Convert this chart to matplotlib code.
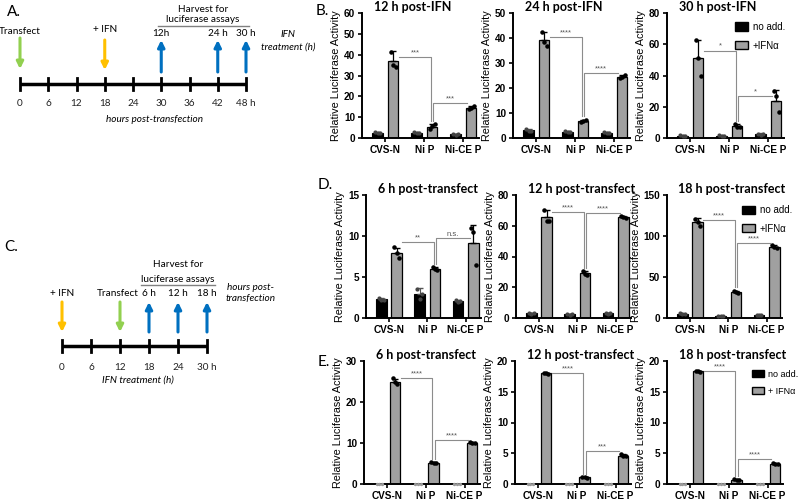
import matplotlib.pyplot as plt
from matplotlib.patches import Patch

# ---- data -------------------------------------------------------------
groups = ['CVS-N', 'Ni P', 'Ni-CE P']

# B: IFN added 18 h after transfection
b_titles = ['12 h post-IFN', '24 h post-IFN', '30 h post-IFN']
b_ymax = [60, 50, 80]
b_ystep = [10, 10, 20]
b_ctrl = [[2.5, 2.6, 1.8], [3.1, 2.5, 2.1], [1.5, 1.4, 2.4]]
b_ctrl_err = [[0.4, 0.3, 0.3], [0.5, 0.3, 0.3], [0.4, 0.3, 0.5]]
b_ctrl_pts = [[[2.9, 2.3, 2.5], [2.9, 2.4, 2.6], [2.1, 1.6, 1.8]],
              [[3.5, 2.9, 3.0], [2.8, 2.3, 2.5], [2.4, 1.9, 2.1]],
              [[1.9, 1.3, 1.4], [1.7, 1.2, 1.4], [2.8, 2.1, 2.4]]]
b_ifn = [[36.8, 5.5, 14.6], [39.3, 6.9, 24.5], [51.0, 7.6, 24.0]]
b_ifn_err = [[5.0, 1.3, 1.0], [3.2, 0.5, 0.6], [12.0, 1.5, 6.8]]
b_ifn_pts = [[[41.5, 35.0, 34.0], [4.5, 5.8, 6.8], [14.0, 14.3, 15.6]],
             [[42.5, 38.5, 37.0], [6.5, 7.0, 7.3], [24.0, 24.3, 25.2]],
             [[63.0, 51.0, 40.0], [9.0, 7.0, 7.0], [30.0, 27.0, 16.5]]]
b_stars = [['***', '***'], ['****', '****'], ['*', '*']]
b_star_y = [[39, 17], [40.5, 26], [56, 27]]

# D: IFN added 12 h before transfection
d_titles = ['6 h post-transfect', '12 h post-transfect', '18 h post-transfect']
d_ymax = [15, 80, 150]
d_ystep = [5, 20, 50]
d_ctrl = [[2.3, 2.9, 2.1], [3.0, 2.5, 3.0], [5.0, 2.5, 3.5]]
d_ctrl_err = [[0.2, 0.7, 0.1], [0.4, 0.4, 0.3], [0.8, 0.5, 0.6]]
d_ctrl_pts = [[[2.5, 2.2, 2.2], [3.5, 2.3, 2.9], [2.2, 2.0, 2.1]],
              [[3.3, 2.8, 3.0], [2.8, 2.2, 2.5], [3.3, 2.7, 3.0]],
              [[5.7, 4.5, 4.8], [2.9, 2.2, 2.4], [4.0, 3.1, 3.4]]]
d_ifn = [[7.9, 6.0, 9.1], [65.5, 29.0, 65.8], [117.0, 32.0, 87.0]]
d_ifn_err = [[0.6, 0.2, 2.3], [5.0, 1.6, 0.8], [5.0, 1.5, 2.0]]
d_ifn_pts = [[[8.7, 7.9, 7.3], [6.2, 6.0, 5.9], [11.0, 10.5, 6.5]],
             [[70.5, 63.0, 63.0], [30.5, 28.5, 28.0], [66.5, 65.8, 65.2]],
             [[121.0, 117.0, 112.0], [33.5, 31.5, 31.0], [89.0, 86.5, 85.5]]]
d_stars = [['**', 'n.s.'], ['****', '****'], ['****', '****']]
d_star_y = [[9.3, 9.7], [69, 68], [120, 92]]

# E: second experiment, same design as D
e_titles = ['6 h post-transfect', '12 h post-transfect', '18 h post-transfect']
e_ymax = [30, 20, 20]
e_ystep = [10, 5, 5]
e_ctrl = [[0, 0, 0], [0, 0, 0], [0, 0, 0]]
e_ctrl_err = [[0, 0, 0], [0, 0, 0], [0, 0, 0]]
e_ctrl_pts = [[[0, 0, 0], [0, 0, 0], [0, 0, 0]],
              [[0, 0, 0], [0, 0, 0], [0, 0, 0]],
              [[0, 0, 0], [0, 0, 0], [0, 0, 0]]]
e_ifn = [[25.0, 5.2, 10.0], [18.0, 1.1, 4.6], [18.3, 0.7, 3.3]]
e_ifn_err = [[0.7, 0.2, 0.2], [0.1, 0.1, 0.2], [0.1, 0.1, 0.1]]
e_ifn_pts = [[[25.8, 25.0, 24.3], [5.3, 5.2, 5.1], [10.2, 10.0, 9.9]],
             [[18.1, 18.0, 17.9], [1.2, 1.1, 1.0], [4.8, 4.6, 4.5]],
             [[18.4, 18.3, 18.2], [0.8, 0.7, 0.6], [3.4, 3.3, 3.2]]]
e_stars = [['****', '****'], ['****', '***'], ['****', '****']]
e_star_y = [[25.8, 10.8], [18.0, 5.3], [18.3, 4.0]]

# timelines
a_ticks = [0, 6, 12, 18, 24, 30, 36, 42, 48]
a_tick_labels = ['0', '6', '12', '18', '24', '30', '36', '42', '48 h']
a_transfect = 0
a_ifn = 18
a_harvest = [30, 42, 48]
a_harvest_labels = ['12h', '24 h', '30 h']

c_ticks = [0, 6, 12, 18, 24, 30]
c_tick_labels = ['0', '6', '12', '18', '24', '30 h']
c_ifn = 0
c_transfect = 12
c_harvest = [18, 24, 30]
c_harvest_labels = ['6 h', '12 h', '18 h']

# ---- style ------------------------------------------------------------
W, H = 800, 503
fig = plt.figure(figsize=(8, 5.03), dpi=100)
ARIAL = 'Liberation Sans'
CAL = 'Lato'
FS_T = 7.2  # timeline text size
GREY = '#a0a0a0'
GREEN = '#92d050'
ORANGE = '#ffc000'
BLUE = '#0070c0'


def px_axes(x0, y_top, x1, y_bot):
    return fig.add_axes([x0 / W, 1 - y_bot / H, (x1 - x0) / W, (y_bot - y_top) / H])


def bar_panel(ax, title, ymax, ystep, ctrl, ctrl_err, ctrl_pts, ifn, ifn_err, ifn_pts,
              stars, star_y, zero_ctrl=False):
    x = list(range(len(groups)))
    off, bw = 0.2, 0.27
    if not zero_ctrl:
        ax.bar([i - off for i in x], ctrl, bw, color='black', edgecolor='black', lw=0.8, zorder=2)
        ax.errorbar([i - off for i in x], ctrl, yerr=[[0] * 3, ctrl_err], fmt='none',
                    ecolor='#555555', elinewidth=0.8, capsize=2, zorder=3)
        for i in x:
            ax.scatter([i - off - 0.06, i - off, i - off + 0.06], ctrl_pts[i], s=4,
                       color='#444444', zorder=4)
    else:
        for i in x:
            ax.scatter([i - off - 0.07, i - off, i - off + 0.07], ctrl_pts[i], s=2,
                       color='#999999', zorder=4, clip_on=False)
    ax.bar([i + off for i in x], ifn, bw, color=GREY, edgecolor='black', lw=0.9, zorder=2)
    ax.errorbar([i + off for i in x], ifn, yerr=[[0] * 3, ifn_err], fmt='none',
                ecolor='black', elinewidth=0.9, capsize=2, zorder=3)
    for i in x:
        ax.scatter([i + off - 0.06, i + off, i + off + 0.06], ifn_pts[i], s=5,
                   color='black', zorder=4)

    # significance brackets
    pad = 0.025 * ymax
    low = ifn[1] + ifn_err[1] + pad
    lc = '#8c8c8c'
    ax.plot([0.35, 1.17, 1.17], [star_y[0], star_y[0], low], color=lc, lw=0.8, zorder=5)
    ax.plot([1.23, 1.23, 2.1], [low, star_y[1], star_y[1]], color=lc, lw=0.8, zorder=5)
    ax.text((0.35 + 1.17) / 2, star_y[0] + 0.005 * ymax, stars[0], ha='center', va='bottom',
            fontsize=5.5, color='#555555', family=ARIAL)
    ax.text((1.23 + 2.1) / 2, star_y[1] + 0.005 * ymax, stars[1], ha='center', va='bottom',
            fontsize=5.5, color='#555555', family=ARIAL)

    ax.set_xlim(-0.6, 2.4)
    ax.set_ylim(0, ymax)
    ax.set_yticks(range(0, ymax + 1, ystep))
    ax.set_xticks(x)
    ax.set_xticklabels(groups)
    for s in ['top', 'right']:
        ax.spines[s].set_visible(False)
    for s in ['left', 'bottom']:
        ax.spines[s].set_linewidth(1.4)
    ax.tick_params(axis='both', length=3, width=1.2, pad=2)
    for lab in ax.get_xticklabels() + ax.get_yticklabels():
        lab.set_fontfamily(ARIAL)
        lab.set_fontweight('bold')
        lab.set_fontsize(7.2)
    ax.set_ylabel('Relative Luciferase Activity', family=ARIAL, fontsize=7.8, labelpad=2)
    ax.set_title(title, family=CAL, fontweight='bold', fontsize=9, pad=1, loc='left', x=0.1)


def add_legend(ax, ifn_label, anchor, size=7):
    handles = [Patch(facecolor='black', edgecolor='black', label='no add.'),
               Patch(facecolor=GREY, edgecolor='black', label=ifn_label)]
    ax.legend(handles=handles, loc='upper left', bbox_to_anchor=anchor, frameon=False,
              prop={'family': ARIAL, 'size': size}, handlelength=1.3, handleheight=0.9,
              labelspacing=0.9, handletextpad=0.5, borderaxespad=0)


# ---- bar panels -------------------------------------------------------
b_cols = [362, 513, 667]
d_cols = [366, 516, 667]
e_cols = [364, 515, 667]
for k in range(3):
    ax = px_axes(b_cols[k], 13, b_cols[k] + 117, 138)
    bar_panel(ax, b_titles[k], b_ymax[k], b_ystep[k], b_ctrl[k], b_ctrl_err[k], b_ctrl_pts[k],
              b_ifn[k], b_ifn_err[k], b_ifn_pts[k], b_stars[k], b_star_y[k])
    if k == 2:
        add_legend(ax, '+IFN\u03b1', (0.55, 0.96))
for k in range(3):
    ax = px_axes(d_cols[k], 195, d_cols[k] + 115, 318)
    bar_panel(ax, d_titles[k], d_ymax[k], d_ystep[k], d_ctrl[k], d_ctrl_err[k], d_ctrl_pts[k],
              d_ifn[k], d_ifn_err[k], d_ifn_pts[k], d_stars[k], d_star_y[k])
    if k == 2:
        add_legend(ax, '+IFN\u03b1', (0.62, 0.95))
for k in range(3):
    ax = px_axes(e_cols[k], 361, e_cols[k] + 116, 484)
    bar_panel(ax, e_titles[k], e_ymax[k], e_ystep[k], e_ctrl[k], e_ctrl_err[k], e_ctrl_pts[k],
              e_ifn[k], e_ifn_err[k], e_ifn_pts[k], e_stars[k], e_star_y[k], zero_ctrl=True)
    if k == 2:
        add_legend(ax, '+ IFN\u03b1', (0.70, 0.96), size=6.5)


# ---- timelines --------------------------------------------------------
def arrow(ax, x, y_from, y_to, color):
    ax.annotate('', xy=(x, y_to), xytext=(x, y_from),
                arrowprops=dict(arrowstyle='-|>', color=color, lw=2.2, mutation_scale=10,
                                shrinkA=0, shrinkB=0))


# A: y in pixels (0..130), x in hours
axA = px_axes(0, 0, 330, 130)
pxh = 226 / 48
axA.set_xlim(-20 / pxh, 310 / pxh)
axA.set_ylim(130, 0)
axA.axis('off')
axA.plot([a_ticks[0], a_ticks[-1]], [84, 84], color='black', lw=2.5, solid_capstyle='butt')
for t, lab in zip(a_ticks, a_tick_labels):
    axA.plot([t, t], [78, 90], color='black', lw=2)
    axA.text(t, 104, lab, ha='center', va='center', fontsize=FS_T, family=CAL, color='#222222')
arrow(axA, a_transfect, 38, 69, GREEN)
axA.text(a_transfect, 31, 'Transfect', ha='center', va='center', fontsize=FS_T, family=CAL)
arrow(axA, a_ifn, 40, 70, ORANGE)
axA.text(a_ifn, 29, '+ IFN', ha='center', va='center', fontsize=FS_T, family=CAL)
for t, lab in zip(a_harvest, a_harvest_labels):
    arrow(axA, t, 72, 40, BLUE)
    axA.text(t, 34, lab, ha='center', va='center', fontsize=FS_T, family=CAL)
axA.text(38.9, 9, 'Harvest for', ha='center', va='center', fontsize=FS_T, family=CAL)
axA.text(38.9, 20, 'luciferase assays', ha='center', va='center', fontsize=FS_T, family=CAL)
axA.plot([29.3, 48.6], [26, 26], color='#808080', lw=1)
axA.text(57, 41, 'IFN\ntreatment (h)', ha='center', va='center', fontsize=FS_T, family=CAL,
         style='italic', linespacing=1.5)
axA.text(28.5, 120, 'hours post-transfection', ha='center', va='center', fontsize=FS_T,
         family=CAL, style='italic')

# C: y in pixels (240..400), x in hours
axC = px_axes(0, 240, 330, 400)
pxc = 145 / 30
axC.set_xlim(-62 / pxc, 268 / pxc)
axC.set_ylim(400, 240)
axC.axis('off')
axC.plot([c_ticks[0], c_ticks[-1]], [346, 346], color='black', lw=2.5, solid_capstyle='butt')
for t, lab in zip(c_ticks, c_tick_labels):
    axC.plot([t, t], [340, 352], color='black', lw=2)
    axC.text(t, 367, lab, ha='center', va='center', fontsize=FS_T, family=CAL, color='#222222')
arrow(axC, c_ifn, 302, 332, ORANGE)
axC.text(c_ifn, 293, '+ IFN', ha='center', va='center', fontsize=FS_T, family=CAL)
arrow(axC, c_transfect, 302, 332, GREEN)
axC.text(c_transfect - 0.5, 293, 'Transfect', ha='center', va='center', fontsize=FS_T,
         family=CAL)
for t, lab in zip(c_harvest, c_harvest_labels):
    arrow(axC, t, 332, 302, BLUE)
    axC.text(t, 293, lab, ha='center', va='center', fontsize=FS_T, family=CAL)
axC.text(24, 264, 'Harvest for', ha='center', va='center', fontsize=FS_T, family=CAL)
axC.text(24, 279, 'luciferase assays', ha='center', va='center', fontsize=FS_T, family=CAL)
axC.plot([16.3, 31.7], [285, 285], color='#808080', lw=1)
axC.text(39, 293, 'hours post-\ntransfection', ha='center', va='center', fontsize=FS_T,
         family=CAL, style='italic', linespacing=1.4)
axC.text(15.7, 380, 'IFN treatment (h)', ha='center', va='center', fontsize=FS_T, family=CAL,
         style='italic')

# panel letters
for lab, x, y in [('A.', 7, 12), ('B.', 316, 11), ('C.', 4, 247), ('D.', 318, 185),
                  ('E.', 318, 362)]:
    fig.text(x / W, 1 - y / H, lab, fontsize=11, family=CAL, va='center', ha='left')

fig.savefig('out.png', dpi=100)
